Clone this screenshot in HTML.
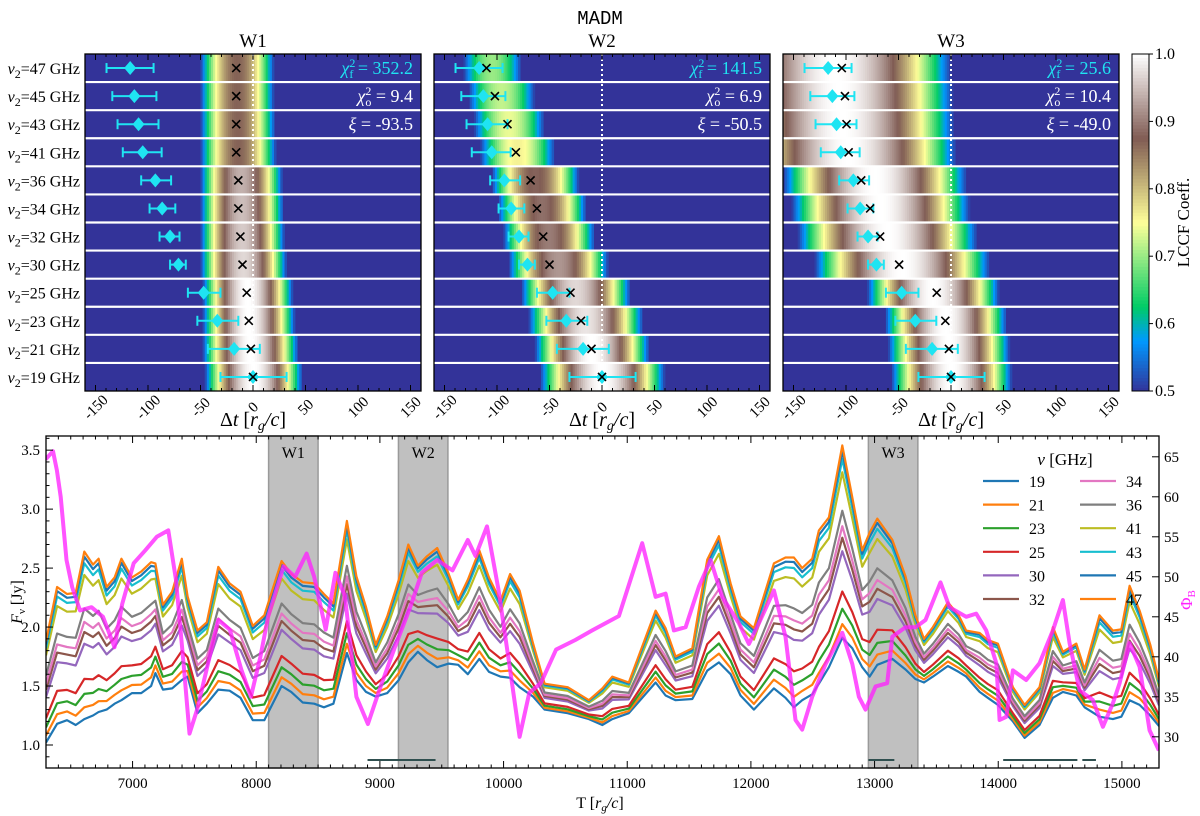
<!DOCTYPE html>
<html><head><meta charset="utf-8"><style>
html,body{margin:0;padding:0;background:#fff}
svg{display:block;font-family:"Liberation Serif",serif}
</style></head><body>
<svg id="fig" width="1200" height="816" viewBox="0 0 1200 816" xmlns="http://www.w3.org/2000/svg">
<text x="600" y="24" font-family="Liberation Mono,monospace" font-size="19" text-anchor="middle">MADM</text>
<g id="top"></g>
<g id="cbar"></g>
<g id="bottom"></g>
</svg>
<script>
const NS='http://www.w3.org/2000/svg';
function mk(tag,attrs,parent,txt){const e=document.createElementNS(NS,tag);for(const k in attrs)e.setAttribute(k,attrs[k]);if(txt!==undefined)e.textContent=txt;if(parent)parent.appendChild(e);return e;}

// ===== Top panel data =====
const rowFreqs=[47,45,43,41,36,34,32,30,25,23,21,19];
const windowNames=['W1','W2','W3'];
const w1Left=[-50,-50,-50,-50,-50,-50,-50,-50,-48,-48,-48,-46];
const w1Right=[20,20,21,22,28,29,30,32,38,40,43,47];
const w1Peak=[0.87,0.87,0.87,0.87,0.94,0.95,0.96,0.97,1,1,1,1];
const w1Cross=[-16,-16,-16,-16,-14,-14,-12,-10,-6,-4,-2,0];
const w2Left=[-132,-127,-122,-116,-105,-99,-94,-89,-77,-70,-64,-59];
const w2Right=[-77,-64,-55,-45,-22,-15,-7,6,27,39,45,60];
const w2Peak=[0.70,0.72,0.74,0.76,0.88,0.89,0.90,0.92,0.97,0.98,1,1];
const w2Cross=[-110,-102,-90,-82,-68,-62,-56,-50,-30,-20,-10,0];
const w3Left=[-220,-215,-210,-200,-160,-152,-146,-130,-80,-63,-60,-57];
const w3Right=[0,2,3,5,15,18,25,37,46,53,56,58];
const w3Peak=[1,1,1,1,1,1,1,1,1,1,1,1];
const w3Cross=[-104,-101,-99.5,-97.5,-85.5,-77,-67.5,-49.4,-13.6,-5.4,-2,0];
const fitMid=[-117,-113,-109,-105,-93,-86.5,-79,-71,-47,-34,-18,0];
const fitLo=[-139.5,-134,-129,-124,-106.5,-98.5,-89,-79,-62,-53,-43,-31];
const fitHi=[-94.7,-92,-90,-87,-78,-74,-70,-64,-31,-14,6.5,32];
const chiF=['352.2','141.5','25.6'];
const chiO=['9.4','6.9','10.4'];
const xiVals=['-93.5','-50.5','-49.0'];
const dtTicks=[-150,-100,-50,0,50,100,150];
const cbTicks=[0.5,0.6,0.7,0.8,0.9,1.0];

// ===== Bottom chart data =====
const timeT=[6300,6390,6470,6540,6610,6680,6725,6790,6855,6910,6995,7070,7150,7185,7245,7320,7398,7445,7525,7600,7693,7785,7873,7972,8065,8205,8283,8376,8469,8547,8624,8733,8810,8888,8966,9059,9152,9230,9307,9380,9463,9556,9633,9711,9804,9882,9975,10053,10130,10239,10332,10519,10690,10798,10879,11013,11229,11310,11391,11526,11647,11741,11836,11916,12024,12186,12280,12348,12415,12496,12550,12631,12739,12820,12900,12960,13022,13143,13250,13330,13400,13472,13593,13680,13741,13849,13916,13997,14119,14213,14334,14442,14523,14631,14698,14819,14927,14995,15062,15143,15230,15300];
const flux47=[1.88,2.34,2.28,2.29,2.64,2.53,2.58,2.34,2.42,2.58,2.42,2.47,2.55,2.54,2.19,2.30,2.58,2.26,1.97,2.04,2.51,2.37,2.30,2.01,2.10,2.56,2.45,2.38,2.37,2.28,2.20,2.90,2.43,2.17,1.85,2.09,2.40,2.70,2.52,2.60,2.67,2.45,2.23,2.40,2.65,2.42,2.22,2.45,2.31,1.86,1.52,1.49,1.38,1.48,1.58,1.53,2.14,1.99,1.75,1.82,2.57,2.77,2.37,2.09,1.99,2.54,2.59,2.59,2.50,2.58,2.82,2.93,3.54,3.10,2.65,2.80,2.92,2.74,2.43,2.10,1.90,2.00,2.21,2.10,1.97,1.95,1.89,1.86,1.49,1.34,1.49,2.00,1.79,1.86,1.64,2.10,1.97,1.98,2.35,2.14,1.85,1.55];
const flux19=[1.02,1.18,1.21,1.17,1.22,1.25,1.28,1.30,1.35,1.38,1.44,1.44,1.50,1.61,1.47,1.48,1.55,1.58,1.27,1.35,1.47,1.46,1.40,1.21,1.21,1.50,1.45,1.36,1.35,1.32,1.35,1.78,1.55,1.45,1.41,1.44,1.55,1.70,1.79,1.72,1.66,1.69,1.68,1.60,1.73,1.62,1.58,1.57,1.49,1.41,1.30,1.27,1.22,1.17,1.22,1.27,1.53,1.42,1.38,1.39,1.63,1.70,1.60,1.42,1.30,1.48,1.40,1.32,1.38,1.43,1.52,1.66,1.91,1.82,1.66,1.58,1.68,1.73,1.64,1.56,1.53,1.58,1.67,1.62,1.58,1.45,1.40,1.34,1.20,1.06,1.17,1.40,1.45,1.42,1.32,1.24,1.22,1.24,1.38,1.34,1.25,1.16];
const seriesFreqs=[19,21,23,25,30,32,34,36,41,43,45,47];
const seriesLevel=[0,0.07,0.15,0.24,0.45,0.52,0.58,0.66,0.86,0.93,0.97,1.0];
const seriesColors=['#1f77b4','#ff7f0e','#2ca02c','#d62728','#9467bd','#8c564b','#e377c2','#7f7f7f','#bcbd22','#17becf','#1f77b4','#ff7f0e'];
const phiT=[6298,6357,6388,6419,6466,6512,6575,6668,6761,6854,6916,7009,7102,7196,7289,7351,7413,7460,7522,7599,7693,7786,7879,7957,8034,8096,8221,8314,8407,8469,8562,8640,8717,8810,8903,8997,9121,9245,9339,9463,9587,9711,9773,9866,9960,10053,10130,10208,10301,10425,10580,10717,10933,11121,11229,11310,11377,11472,11580,11674,11768,11903,11984,12065,12186,12280,12361,12415,12496,12604,12739,12820,12873,12927,13008,13102,13143,13250,13331,13412,13533,13606,13741,13822,13903,13984,14011,14065,14119,14226,14334,14442,14523,14577,14658,14765,14846,14927,14981,15062,15143,15224,15299];
const phiB=[64.7,65.7,63.3,60,52.1,48.7,45.8,46.2,45,41.2,46.6,51.7,53.3,55,55.8,49.6,39.1,30.4,33.4,38.4,44.6,43.4,38.4,35,40,45,51.3,50,52.9,50,43.4,50.5,47.6,35,31.6,35.9,41.2,46.2,50.5,52.1,50.8,54.6,52.6,56.3,48.3,38.4,30,35.5,36.7,40.9,42.1,43.3,45.1,54.2,47.5,47.9,43.3,43.7,48.8,52.1,47.5,44.2,41.6,44.2,48.3,42.5,32.1,30.9,35,39.1,43,39.1,35,33.4,36.3,36.7,42.5,43.7,43.7,44.6,49.3,46.2,45,45.4,43.3,39.2,32.1,32.5,38.3,37.1,39.2,43.3,47.1,41.7,35.8,34.6,31.25,34.2,36.7,41.7,38.75,30.8,28.3];
const bandStart=[8100,9150,12950];
const bandEnd=[8500,9550,13350];
const barStart=[8900,12950,14040,14680];
const barEnd=[9450,13160,14640,14790];
const timeTicks=[7000,8000,9000,10000,11000,12000,13000,14000,15000];
const fluxTicks=[1.0,1.5,2.0,2.5,3.0,3.5];
const phiTicks=[30,35,40,45,50,55,60,65];

// ===== colormap (terrain) =====
const cmStops=[[0,[51,51,153]],[0.15,[0,153,255]],[0.25,[0,204,102]],[0.5,[255,255,153]],[0.75,[128,92,84]],[1,[255,255,255]]];
function cmap(v){let t=(v-0.5)/0.5;t=Math.max(0,Math.min(1,t));for(let i=1;i<cmStops.length;i++){if(t<=cmStops[i][0]){const a=cmStops[i-1],b=cmStops[i];const f=(t-a[0])/(b[0]-a[0]);const c=a[1].map((x,j)=>Math.round(x+(b[1][j]-x)*f));return `rgb(${c[0]},${c[1]},${c[2]})`;}}return 'rgb(255,255,255)';}

// ===== Top panels =====
const topGroup=document.getElementById('top');
const PX=[85,434,783],PW=336,PY=54,PH=337,RH=PH/12;
const winL=[w1Left,w2Left,w3Left],winR=[w1Right,w2Right,w3Right],winP=[w1Peak,w2Peak,w3Peak],winC=[w1Cross,w2Cross,w3Cross];
function xdt(p,dt){return PX[p]+(dt+160)*PW/320;}
rowFreqs.forEach((f,i)=>{
  const t=mk('text',{x:80,y:PY+RH*i+RH/2+6,'font-size':16,'text-anchor':'end'},topGroup);
  
  
  mk('tspan',{'font-style':'italic'},t,'ν');
  mk('tspan',{'font-size':12,dy:4},t,'2');
  mk('tspan',{dy:-4},t,'='+f+' GHz');
});
for(let p=0;p<3;p++){
  const g=mk('g',{},topGroup);
  
  
  const tt=mk('text',{x:PX[p]+PW/2,y:47,'font-size':19,'text-anchor':'middle'},g,windowNames[p]);
  
  
  mk('rect',{x:PX[p],y:PY,width:PW,height:PH,fill:'rgb(51,51,153)'},g);
  for(let i=0;i<12;i++){
    const L=winL[p][i],R=winR[p][i],pk=winP[p][i],c=(L+R)/2,hw=(R-L)/2;
    const rg=mk('g',{},g);
    
    
    const y0=PY+RH*i;
    for(let dt=-160;dt<160;dt+=2){
      const m=dt+1;const u=(m-c)/hw;
      const v=pk-(pk-0.5)*u*u;
      if(v<=0.5)continue;
      const x1=xdt(p,dt),x2=xdt(p,dt+2);
      mk('rect',{x:x1.toFixed(2),y:y0.toFixed(2),width:(x2-x1+0.4).toFixed(2),height:RH.toFixed(2),fill:cmap(v)},rg);
    }
  }
  for(let i=1;i<12;i++){const y=PY+RH*i;mk('line',{x1:PX[p],x2:PX[p]+PW,y1:y,y2:y,stroke:'#fff','stroke-width':2.2},g);}
  const zl=mk('line',{x1:xdt(p,0),x2:xdt(p,0),y1:PY,y2:PY+PH,stroke:'#fff','stroke-width':2,'stroke-dasharray':'2,3'},g);
  
  
  for(let i=0;i<12;i++){
    const yc=PY+RH*i+RH/2;
    const eb=mk('g',{},g);
    
    
    const xl=xdt(p,fitLo[i]),xh=xdt(p,fitHi[i]),xm=xdt(p,fitMid[i]);
    mk('line',{x1:xl,x2:xh,y1:yc,y2:yc,stroke:'#1fe4f2','stroke-width':2},eb);
    mk('line',{x1:xl,x2:xl,y1:yc-5,y2:yc+5,stroke:'#1fe4f2','stroke-width':2},eb);
    mk('line',{x1:xh,x2:xh,y1:yc-5,y2:yc+5,stroke:'#1fe4f2','stroke-width':2},eb);
    mk('polygon',{points:`${xm-6},${yc} ${xm},${yc-7} ${xm+6},${yc} ${xm},${yc+7}`,fill:'#1fe4f2'},eb);
    const xc=xdt(p,winC[p][i]);
    const cr=mk('path',{d:`M${xc-4},${yc-4}L${xc+4},${yc+4}M${xc-4},${yc+4}L${xc+4},${yc-4}`,stroke:'#000','stroke-width':1.6},g);
    
    
  }
  const ax=PX[p]+PW-8;
  const a1=mk('text',{x:ax,y:PY+20,'font-size':18,'text-anchor':'end',fill:'#1fe4f2'},g);
  
  
  mk('tspan',{'font-style':'italic'},a1,'χ');mk('tspan',{'font-size':12,dy:-7},a1,'2');mk('tspan',{'font-size':12,dx:-6,dy:11},a1,'f');mk('tspan',{dy:-4},a1,' = '+chiF[p]);
  const a2=mk('text',{x:ax,y:PY+RH+20,'font-size':18,'text-anchor':'end',fill:'#fff'},g);
  
  
  mk('tspan',{'font-style':'italic'},a2,'χ');mk('tspan',{'font-size':12,dy:-7},a2,'2');mk('tspan',{'font-size':12,dx:-6,dy:11},a2,'o');mk('tspan',{dy:-4},a2,' = '+chiO[p]);
  const a3=mk('text',{x:ax,y:PY+2*RH+20,'font-size':18,'text-anchor':'end',fill:'#fff'},g);
  
  
  mk('tspan',{'font-style':'italic'},a3,'ξ');mk('tspan',{},a3,' = '+xiVals[p]);
  mk('rect',{x:PX[p],y:PY,width:PW,height:PH,fill:'none',stroke:'#000','stroke-width':1.3},g);
  for(let d=-160;d<=160;d+=10){const x=xdt(p,d);const major=d%50===0;mk('line',{x1:x,x2:x,y1:PY+PH,y2:PY+PH-(major?6:3),stroke:'#000','stroke-width':1},g);mk('line',{x1:x,x2:x,y1:PY,y2:PY+(major?6:3),stroke:'#000','stroke-width':1},g);}
  dtTicks.forEach(d=>{const x=xdt(p,d);const t=mk('text',{x:x,y:412,'font-size':15,'text-anchor':'middle',transform:`rotate(-45 ${x} 407)`},g,String(d));});
  const xl=mk('text',{x:PX[p]+PW/2,y:426,'font-size':20,'text-anchor':'middle'},g);
  
  
  mk('tspan',{},xl,'Δ');mk('tspan',{'font-style':'italic'},xl,'t');mk('tspan',{},xl,' [');mk('tspan',{'font-style':'italic'},xl,'r');mk('tspan',{'font-style':'italic','font-size':14,dy:4},xl,'g');mk('tspan',{'font-style':'italic',dy:-4},xl,'/c');mk('tspan',{},xl,']');
}

// ===== Colorbar =====
const cbG=document.getElementById('cbar');


const CBX=1132,CBW=17;
for(let k=0;k<100;k++){const v0=0.5+k*0.005;const y=PY+PH-(k+1)*PH/100;mk('rect',{x:CBX,y:y.toFixed(2),width:CBW,height:(PH/100+0.5).toFixed(2),fill:cmap(v0+0.0025)},cbG);}
mk('rect',{x:CBX,y:PY,width:CBW,height:PH,fill:'none',stroke:'#000','stroke-width':1},cbG);
cbTicks.forEach(v=>{const y=PY+PH-(v-0.5)/0.5*PH;mk('line',{x1:CBX+CBW,x2:CBX+CBW+4,y1:y,y2:y,stroke:'#000'},cbG);const t=mk('text',{x:CBX+CBW+6,y:y+5,'font-size':16},cbG,v.toFixed(1));});
const cbl=mk('text',{x:1189,y:PY+PH/2,'font-size':17,'text-anchor':'middle',transform:`rotate(-90 1189 ${PY+PH/2})`},cbG,'LCCF Coeff.');



// ===== Bottom chart =====
const bt=document.getElementById('bottom');
const BX0=46,BX1=1159,BY0=436,BY1=768;
const TMIN=6300,TMAX=15300,FMIN=0.805,FMAX=3.62,PMIN=26.1,PMAX=67.6;
function xT(t){return BX0+(t-TMIN)/(TMAX-TMIN)*(BX1-BX0);}
function yF(v){return BY1-(v-FMIN)/(FMAX-FMIN)*(BY1-BY0);}
function yP(v){return BY1-(v-PMIN)/(PMAX-PMIN)*(BY1-BY0);}
const clip=mk('clipPath',{id:'bclip'},bt);mk('rect',{x:BX0,y:BY0,width:BX1-BX0,height:BY1-BY0},clip);
bandStart.forEach((s,i)=>{const r=mk('rect',{x:xT(s),y:BY0,width:xT(bandEnd[i])-xT(s),height:BY1-BY0,fill:'#c0c0c0',stroke:'#9a9a9a','stroke-width':1.5},bt);
const t=mk('text',{x:(xT(s)+xT(bandEnd[i]))/2,y:458,'font-size':16,'text-anchor':'middle'},bt,windowNames[i]);});
barStart.forEach((s,i)=>{const l=mk('line',{x1:xT(s),x2:xT(barEnd[i]),y1:760,y2:760,stroke:'#2f4f4f','stroke-width':2},bt);});
const lg=mk('g',{'clip-path':'url(#bclip)'},bt);
seriesFreqs.forEach((f,s)=>{const pts=timeT.map((t,i)=>{const v=flux19[i]+seriesLevel[s]*(flux47[i]-flux19[i]);return xT(t).toFixed(1)+','+yF(v).toFixed(1);}).join(' ');
const pl=mk('polyline',{points:pts,fill:'none',stroke:seriesColors[s],'stroke-width':2.2,'stroke-linejoin':'round'},lg);

});
const ph=mk('polyline',{points:phiT.map((t,i)=>xT(t).toFixed(1)+','+yP(phiB[i]).toFixed(1)).join(' '),fill:'none',stroke:'#ff22ff','stroke-opacity':0.78,'stroke-width':4,'stroke-linejoin':'round'},lg);


mk('rect',{x:BX0,y:BY0,width:BX1-BX0,height:BY1-BY0,fill:'none',stroke:'#000','stroke-width':1.3},bt);
for(let t=6300;t<=15300;t+=100){const x=xT(t);const major=t%1000===0;mk('line',{x1:x,x2:x,y1:BY1,y2:BY1-(major?7:3.5),stroke:'#000'},bt);mk('line',{x1:x,x2:x,y1:BY0,y2:BY0+(major?7:3.5),stroke:'#000'},bt);}
timeTicks.forEach(t=>{const e=mk('text',{x:xT(t),y:788,'font-size':15,'text-anchor':'middle'},bt,String(t));});
for(let k=9;k<=36;k++){const v=k/10;const y=yF(v);if(y<BY0)continue;const major=k%5===0;mk('line',{x1:BX0,x2:BX0+(major?7:3.5),y1:y,y2:y,stroke:'#000'},bt);}
fluxTicks.forEach(v=>{const e=mk('text',{x:40,y:yF(v)+5,'font-size':15,'text-anchor':'end'},bt,v.toFixed(1));});
phiTicks.forEach(v=>{const y=yP(v);mk('line',{x1:BX1,x2:BX1-7,y1:y,y2:y,stroke:'#000'},bt);const e=mk('text',{x:1164,y:y+5,'font-size':15},bt,String(v));});
const yl=mk('text',{x:22,y:602,'font-size':16,'text-anchor':'middle',transform:'rotate(-90 22 602)'},bt);


mk('tspan',{'font-style':'italic'},yl,'F');mk('tspan',{'font-size':11,dy:3},yl,'ν');mk('tspan',{dy:-3},yl,' [Jy]');
const xlb=mk('text',{x:600,y:808,'font-size':16,'text-anchor':'middle'},bt);


mk('tspan',{},xlb,'T [');mk('tspan',{'font-style':'italic'},xlb,'r');mk('tspan',{'font-style':'italic','font-size':11,dy:3},xlb,'g');mk('tspan',{'font-style':'italic',dy:-3},xlb,'/c');mk('tspan',{},xlb,']');
const pl2=mk('text',{x:1192,y:600,'font-size':17,'text-anchor':'middle',fill:'#ff22ff',transform:'rotate(-90 1192 600)'},bt);


mk('tspan',{},pl2,'Φ');mk('tspan',{'font-size':11,dy:3},pl2,'B');
const leg=mk('g',{},bt);


const lt=mk('text',{x:1065,y:465,'font-size':17,'text-anchor':'middle'},leg);
mk('tspan',{'font-style':'italic'},lt,'ν');mk('tspan',{},lt,' [GHz]');
seriesFreqs.forEach((f,s)=>{const col=s<6?0:1,row=s%6;const x0=col?1080:983;const y=481+row*23.6;
const e=mk('g',{},leg);


mk('line',{x1:x0,x2:x0+36,y1:y,y2:y,stroke:seriesColors[s],'stroke-width':2.2},e);
mk('text',{x:x0+46,y:y+6,'font-size':16},e,String(f));});
</script>
</body></html>
